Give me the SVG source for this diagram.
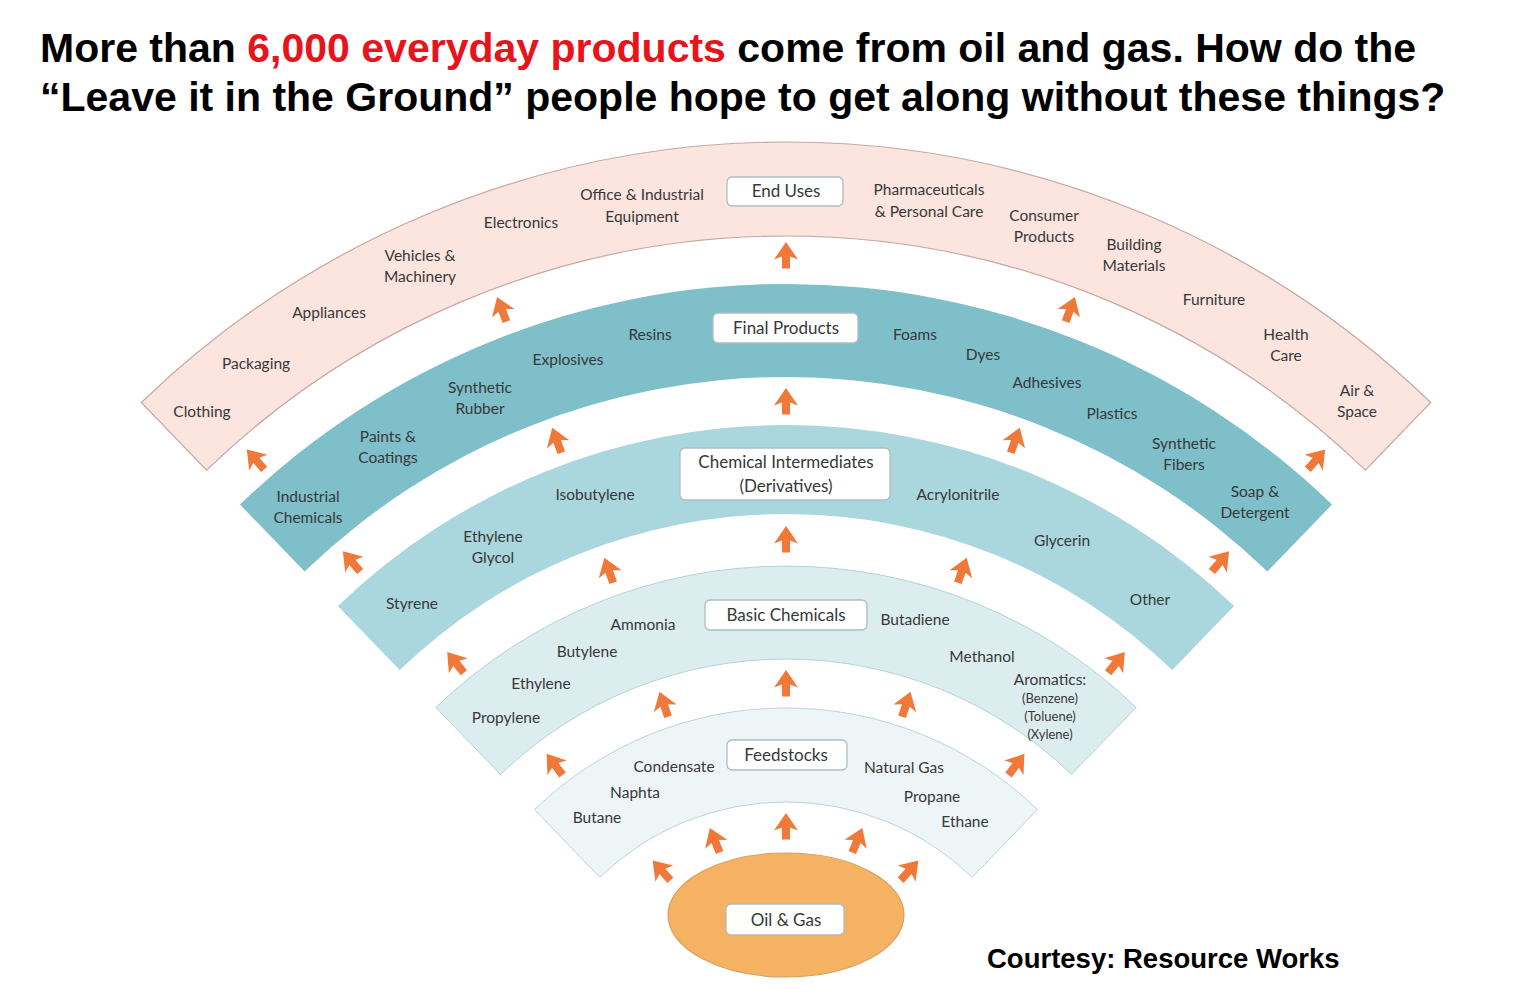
<svg xmlns="http://www.w3.org/2000/svg" xmlns:xlink="http://www.w3.org/1999/xlink" width="1536" height="1000" viewBox="0 0 1536 1000">
<defs>
<style>
.t{font-family:'Lato','Liberation Sans',sans-serif;font-size:15.5px;fill:#383838;text-anchor:middle}
.s{font-size:13px}
.b{font-size:17px}
.h{font-family:'Liberation Sans',Arial,sans-serif;font-weight:bold;font-size:41px;fill:#000}
.red{fill:#E8141C}
.box{fill:#fff;stroke:#aebcc2;stroke-width:1.3}
.arr{fill:#F07838}
</style>
<path id="arr" d="M0,-14 L12,3.5 L4,0.5 L4,12.5 L-4,12.5 L-4,0.5 L-12,3.5 Z"/>
</defs>
<rect width="1536" height="1000" fill="#fff"/>

<text class="h" x="40" y="62">More than <tspan class="red">6,000 everyday products</tspan> come from oil and gas. How do the</text>
<text class="h" x="40" y="111">“Leave it in the Ground” people hope to get along without these things?</text>

<g id="end-uses">
<path d="M141.3,402.5 A928,928 0 0 1 1430.7,402.5 L1365.4,470.1 A834,834 0 0 0 206.6,470.1 Z" fill="#FCE4DF" stroke="#c4a8a2" stroke-width="1.2"/>
<rect class="box" x="727" y="177" width="116" height="29" rx="5"/>
<text class="t b" x="786" y="197">End Uses</text>
<text class="t" x="202" y="417">Clothing</text>
<text class="t" x="256" y="369">Packaging</text>
<text class="t" x="329" y="318">Appliances</text>
<text class="t" x="420" y="261">Vehicles &amp;</text>
<text class="t" x="420" y="282">Machinery</text>
<text class="t" x="521" y="228">Electronics</text>
<text class="t" x="642" y="200">Office &amp; Industrial</text>
<text class="t" x="642" y="222">Equipment</text>
<text class="t" x="929" y="195">Pharmaceuticals</text>
<text class="t" x="929" y="217">&amp; Personal Care</text>
<text class="t" x="1044" y="221">Consumer</text>
<text class="t" x="1044" y="242">Products</text>
<text class="t" x="1134" y="250">Building</text>
<text class="t" x="1134" y="271">Materials</text>
<text class="t" x="1214" y="305">Furniture</text>
<text class="t" x="1286" y="340">Health</text>
<text class="t" x="1286" y="361">Care</text>
<text class="t" x="1357" y="396">Air &amp;</text>
<text class="t" x="1357" y="417">Space</text>
</g>

<g id="final-products">
<path d="M240,504.6 A786,786 0 0 1 1332,504.6 L1267.4,571.5 A693,693 0 0 0 304.6,571.5 Z" fill="#7FBFC9"/>
<rect class="box" x="713" y="313" width="145" height="30" rx="5"/>
<text class="t b" x="786" y="334">Final Products</text>
<text class="t" x="308" y="502">Industrial</text>
<text class="t" x="308" y="523">Chemicals</text>
<text class="t" x="388" y="442">Paints &amp;</text>
<text class="t" x="388" y="463">Coatings</text>
<text class="t" x="480" y="393">Synthetic</text>
<text class="t" x="480" y="414">Rubber</text>
<text class="t" x="568" y="365">Explosives</text>
<text class="t" x="650" y="340">Resins</text>
<text class="t" x="915" y="340">Foams</text>
<text class="t" x="983" y="360">Dyes</text>
<text class="t" x="1047" y="388">Adhesives</text>
<text class="t" x="1112" y="419">Plastics</text>
<text class="t" x="1184" y="449">Synthetic</text>
<text class="t" x="1184" y="470">Fibers</text>
<text class="t" x="1255" y="497">Soap &amp;</text>
<text class="t" x="1255" y="518">Detergent</text>
</g>

<g id="chemical-intermediates">
<path d="M337.9,606.1 A645,645 0 0 1 1234.1,606.1 L1172.3,670.1 A556,556 0 0 0 399.7,670.1 Z" fill="#AAD6DE"/>
<rect class="box" x="680" y="448" width="210" height="52" rx="5"/>
<text class="t b" x="786" y="468">Chemical Intermediates</text>
<text class="t b" x="786" y="492">(Derivatives)</text>
<text class="t" x="412" y="609">Styrene</text>
<text class="t" x="493" y="542">Ethylene</text>
<text class="t" x="493" y="563">Glycol</text>
<text class="t" x="595" y="500">Isobutylene</text>
<text class="t" x="958" y="500">Acrylonitrile</text>
<text class="t" x="1062" y="546">Glycerin</text>
<text class="t" x="1150" y="605">Other</text>
</g>

<g id="basic-chemicals">
<path d="M435.9,707.5 A504,504 0 0 1 1136.1,707.5 L1071.5,774.4 A411,411 0 0 0 500.5,774.4 Z" fill="#DCEDF0" stroke="#b4d3d9" stroke-width="1"/>
<rect class="box" x="705" y="600" width="162" height="30" rx="5"/>
<text class="t b" x="786" y="621">Basic Chemicals</text>
<text class="t" x="506" y="723">Propylene</text>
<text class="t" x="541" y="689">Ethylene</text>
<text class="t" x="587" y="657">Butylene</text>
<text class="t" x="643" y="630">Ammonia</text>
<text class="t" x="915" y="625">Butadiene</text>
<text class="t" x="982" y="662">Methanol</text>
<text class="t" x="1050" y="685">Aromatics:</text>
<text class="t s" x="1050" y="703">(Benzene)</text>
<text class="t s" x="1050" y="721">(Toluene)</text>
<text class="t s" x="1050" y="739">(Xylene)</text>
</g>

<g id="feedstocks">
<path d="M534.5,809.6 A362,362 0 0 1 1037.5,809.6 L972.2,877.2 A268,268 0 0 0 599.8,877.2 Z" fill="#EEF5F6" stroke="#bcd3d8" stroke-width="1"/>
<rect class="box" x="727" y="740" width="120" height="30" rx="5"/>
<text class="t b" x="786" y="761">Feedstocks</text>
<text class="t" x="597" y="823">Butane</text>
<text class="t" x="635" y="798">Naphta</text>
<text class="t" x="674" y="772">Condensate</text>
<text class="t" x="904" y="773">Natural Gas</text>
<text class="t" x="932" y="802">Propane</text>
<text class="t" x="965" y="827">Ethane</text>
</g>

<g id="oil-gas">
<ellipse cx="786" cy="915" rx="118" ry="62" fill="#F4B262" stroke="#d9a062" stroke-width="1.2"/>
<rect class="box" x="726" y="904" width="118" height="31" rx="5"/>
<text class="t b" x="786" y="926">Oil &amp; Gas</text>
</g>

<g id="connectors" class="arr">
<use xlink:href="#arr" transform="translate(786,256)"/>
<use xlink:href="#arr" transform="translate(502,310) rotate(-20.5)"/>
<use xlink:href="#arr" transform="translate(1070,310) rotate(20.5)"/>
<use xlink:href="#arr" transform="translate(256,460) rotate(-41)"/>
<use xlink:href="#arr" transform="translate(1316,460) rotate(41)"/>

<use xlink:href="#arr" transform="translate(786,402)"/>
<use xlink:href="#arr" transform="translate(557,441) rotate(-20)"/>
<use xlink:href="#arr" transform="translate(1015,441) rotate(20)"/>
<use xlink:href="#arr" transform="translate(352,562) rotate(-40.5)"/>
<use xlink:href="#arr" transform="translate(1220,562) rotate(40.5)"/>

<use xlink:href="#arr" transform="translate(786,540)"/>
<use xlink:href="#arr" transform="translate(609,571) rotate(-19.5)"/>
<use xlink:href="#arr" transform="translate(962,571) rotate(19.5)"/>
<use xlink:href="#arr" transform="translate(456,663) rotate(-39)"/>
<use xlink:href="#arr" transform="translate(1116,663) rotate(39)"/>

<use xlink:href="#arr" transform="translate(786,684)"/>
<use xlink:href="#arr" transform="translate(664,705) rotate(-18.5)"/>
<use xlink:href="#arr" transform="translate(906,705) rotate(18.5)"/>
<use xlink:href="#arr" transform="translate(555,765) rotate(-37)"/>
<use xlink:href="#arr" transform="translate(1016,765) rotate(37)"/>

<use xlink:href="#arr" transform="translate(786,827)"/>
<use xlink:href="#arr" transform="translate(715,841) rotate(-22)"/>
<use xlink:href="#arr" transform="translate(857,841) rotate(22)"/>
<use xlink:href="#arr" transform="translate(662,871) rotate(-42)"/>
<use xlink:href="#arr" transform="translate(909,871) rotate(42)"/>
</g>

<text x="987" y="968" font-family="'Liberation Sans',Arial,sans-serif" font-weight="bold" font-size="27.5" fill="#000">Courtesy: Resource Works</text>
</svg>
